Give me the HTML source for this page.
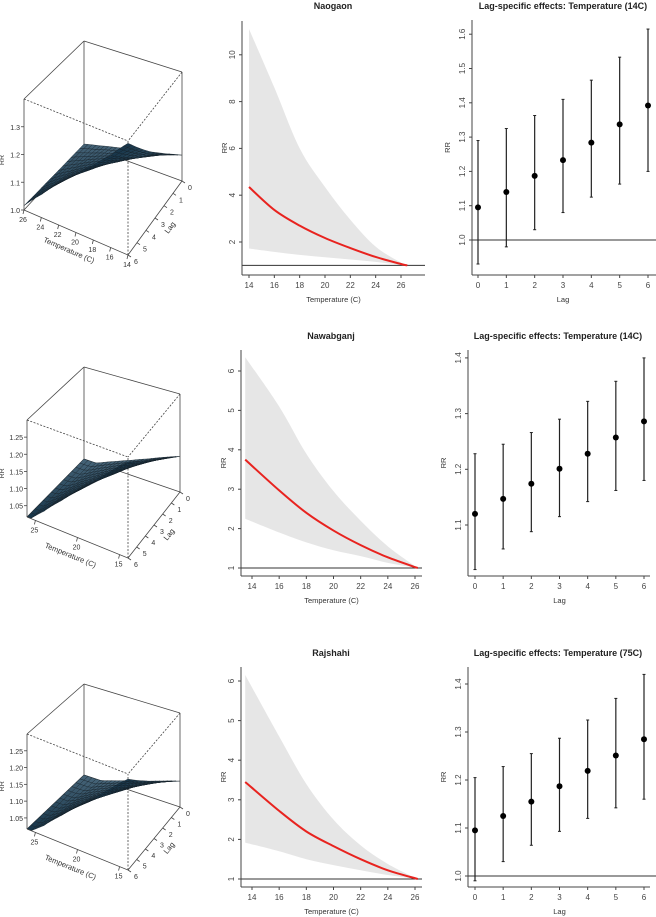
<!DOCTYPE html>
<html><head><meta charset="utf-8">
<style>
html,body{margin:0;padding:0;background:#fff;}
svg{display:block;font-family:"Liberation Sans",Arial,sans-serif;}
</style></head>
<body>
<svg id="fig" width="656" height="917" viewBox="0 0 656 917" xmlns="http://www.w3.org/2000/svg"></svg>
<script>
// ---------- data ----------
const lags = [0,1,2,3,4,5,6];
const lagTicks = [0,1,2,3,4,5,6];
const tempTicks = [14,16,18,20,22,24,26];

const naoTemps = [14,16,18,20,22,24,26,26.5];
const naoRR    = [4.35,3.37,2.7,2.17,1.74,1.36,1.06,1.0];
const naoUp    = [11.1,8.6,6.0,4.35,2.95,1.8,1.12,1.0];
const naoLo    = [1.72,1.58,1.45,1.35,1.25,1.15,1.02,1.0];
const naoLagRR = [1.095,1.14,1.187,1.233,1.284,1.337,1.392];
const naoLagLo = [0.93,0.98,1.03,1.08,1.125,1.163,1.2];
const naoLagUp = [1.29,1.325,1.363,1.41,1.466,1.533,1.615];

const nawTemps = [13.5,16,18,20,22,24,26.2];
const nawRR    = [3.75,2.97,2.4,1.95,1.58,1.27,1.0];
const nawUp    = [6.35,5.1,3.9,2.95,2.2,1.55,1.0];
const nawLo    = [2.25,1.9,1.65,1.45,1.3,1.13,1.0];
const nawLagRR = [1.12,1.147,1.174,1.201,1.228,1.257,1.286];
const nawLagLo = [1.02,1.057,1.088,1.115,1.142,1.162,1.18];
const nawLagUp = [1.228,1.245,1.266,1.29,1.322,1.358,1.4];

const rajTemps = [13.5,16,18,20,22,24,26.2];
const rajRR    = [3.45,2.72,2.2,1.83,1.5,1.22,1.0];
const rajUp    = [6.15,4.6,3.4,2.5,1.85,1.38,1.0];
const rajLo    = [1.92,1.7,1.5,1.35,1.22,1.1,1.0];
const rajLagRR = [1.095,1.125,1.155,1.187,1.219,1.251,1.285];
const rajLagLo = [0.99,1.03,1.064,1.093,1.12,1.142,1.16];
const rajLagUp = [1.205,1.228,1.255,1.287,1.325,1.37,1.42];

const rrTicks1 = [2,4,6,8,10];
const rrTicks2 = [1,2,3,4,5,6];
const lagRRTicks1 = [1.0,1.1,1.2,1.3,1.4,1.5,1.6];
const lagRRTicks2 = [1.1,1.2,1.3,1.4];
const lagRRTicks3 = [1.0,1.1,1.2,1.3,1.4];
const z3dTicks1 = [1.0,1.1,1.2,1.3];
const z3dTicks2 = [1.05,1.10,1.15,1.20,1.25];
const t3dTicks1 = [26,24,22,20,18,16,14];
const t3dTicks2 = [25,20,15];

// ---------- helpers ----------
const NS='http://www.w3.org/2000/svg';
const svg=document.getElementById('fig');
function mk(tag,attrs,parent,text){
  const e=document.createElementNS(NS,tag);
  for(const k in attrs) e.setAttribute(k,attrs[k]);
  if(text!==undefined) e.textContent=text;
  (parent||svg).appendChild(e);
  return e;
}
function lin(d0,d1,r0,r1){return v=>r0+(v-d0)*(r1-r0)/(d1-d0);}
function smoothPath(pts){
  let d='M'+pts[0][0].toFixed(2)+','+pts[0][1].toFixed(2);
  for(let i=0;i<pts.length-1;i++){
    const p0=pts[Math.max(0,i-1)],p1=pts[i],p2=pts[i+1],p3=pts[Math.min(pts.length-1,i+2)];
    const c1=[p1[0]+(p2[0]-p0[0])/6,p1[1]+(p2[1]-p0[1])/6];
    const c2=[p2[0]-(p3[0]-p1[0])/6,p2[1]-(p3[1]-p1[1])/6];
    d+=' C'+c1[0].toFixed(2)+','+c1[1].toFixed(2)+' '+c2[0].toFixed(2)+','+c2[1].toFixed(2)+' '+p2[0].toFixed(2)+','+p2[1].toFixed(2);
  }
  return d;
}
function smoothCont(pts){return smoothPath(pts).replace(/^M/,'L');}

// ---------- overall curve panel ----------
function curvePanel(cfg){
  const g=mk('g',{});
  
  
  const xs=lin(14,26,cfg.x14,cfg.x26), ys=lin(1,2,cfg.y1,cfg.y1-cfg.ppu);
  const up=cfg.temps.map((t,i)=>[xs(t),ys(cfg.up[i])]);
  const lo=cfg.temps.map((t,i)=>[xs(t),ys(cfg.lo[i])]);
  const band=mk('path',{d:smoothPath(up)+' '+smoothCont(lo.slice().reverse())+' Z',fill:'#e6e6e6',stroke:'none'},g);
  
  
  const ref=mk('line',{x1:cfg.axL,x2:cfg.axR,y1:ys(1),y2:ys(1),stroke:'#333','stroke-width':1},g);
  
  
  const cur=mk('path',{d:smoothPath(cfg.temps.map((t,i)=>[xs(t),ys(cfg.rr[i])])),fill:'none',stroke:'#e8231f','stroke-width':2},g);
  
  
  mk('line',{x1:cfg.axL,x2:cfg.axL,y1:cfg.axT,y2:cfg.axB,stroke:'#444','stroke-width':1},g);
  mk('line',{x1:cfg.axL,x2:cfg.axR,y1:cfg.axB,y2:cfg.axB,stroke:'#444','stroke-width':1},g);
  tempTicks.forEach(t=>{
    mk('line',{x1:xs(t),x2:xs(t),y1:cfg.axB,y2:cfg.axB+3,stroke:'#444'},g);
    const l=mk('text',{x:xs(t),y:cfg.axB+13,'font-size':8,'text-anchor':'middle',fill:'#444'},g,String(t));
    
    
  });
  cfg.yticks.forEach(v=>{
    const y=ys(v);
    mk('line',{x1:cfg.axL-3,x2:cfg.axL,y1:y,y2:y,stroke:'#444'},g);
    const l=mk('text',{x:cfg.axL-7,y:y,'font-size':8,'text-anchor':'middle',fill:'#444',transform:`rotate(-90 ${cfg.axL-7} ${y})`},g,String(v));
    
    
  });
  const t=mk('text',{x:cfg.tx,y:cfg.ty,'font-size':9,'font-weight':'bold','text-anchor':'middle',fill:'#222'},g,cfg.title);
  
  
  const xl=mk('text',{x:(cfg.axL+cfg.axR)/2,y:cfg.axB+27,'font-size':7.5,'text-anchor':'middle',fill:'#333'},g,'Temperature (C)');
  
  
  const ym=(cfg.axT+cfg.axB)/2;
  const yl=mk('text',{x:cfg.axL-15,y:ym,'font-size':7.5,'text-anchor':'middle',fill:'#333',transform:`rotate(-90 ${cfg.axL-15} ${ym})`},g,'RR');
  
  
}

// ---------- lag panel ----------
function lagPanel(cfg){
  const g=mk('g',{});
  
  
  const xs=lin(0,6,cfg.x0,cfg.x6), ys=lin(cfg.yref,cfg.yref+0.1,cfg.yrefPx,cfg.yrefPx-cfg.ppt);
  if(cfg.refLine){
    const r=mk('line',{x1:cfg.axL,x2:656,y1:ys(1),y2:ys(1),stroke:'#333'},g);
    
    
  }
  mk('line',{x1:cfg.axL,x2:cfg.axL,y1:cfg.axT,y2:cfg.axB,stroke:'#444'},g);
  mk('line',{x1:cfg.axL,x2:cfg.axR,y1:cfg.axB,y2:cfg.axB,stroke:'#444'},g);
  lags.forEach((l,i)=>{
    const x=xs(l);
    const bar=mk('line',{x1:x,x2:x,y1:ys(cfg.lo[i]),y2:ys(cfg.up[i]),stroke:'#222','stroke-width':1.2},g);
    
    
    mk('line',{x1:x-1.5,x2:x+1.5,y1:ys(cfg.lo[i]),y2:ys(cfg.lo[i]),stroke:'#222'},g);
    mk('line',{x1:x-1.5,x2:x+1.5,y1:ys(cfg.up[i]),y2:ys(cfg.up[i]),stroke:'#222'},g);
    const p=mk('circle',{cx:x,cy:ys(cfg.rr[i]),r:3,fill:'#000'},g);
    
    
  });
  lagTicks.forEach(l=>{
    mk('line',{x1:xs(l),x2:xs(l),y1:cfg.axB,y2:cfg.axB+3,stroke:'#444'},g);
    const t=mk('text',{x:xs(l),y:cfg.axB+13,'font-size':8,'text-anchor':'middle',fill:'#444'},g,String(l));
    
    
  });
  cfg.yticks.forEach(v=>{
    const y=ys(v);
    mk('line',{x1:cfg.axL-3,x2:cfg.axL,y1:y,y2:y,stroke:'#444'},g);
    const t=mk('text',{x:cfg.axL-7,y:y,'font-size':8,'text-anchor':'middle',fill:'#444',transform:`rotate(-90 ${cfg.axL-7} ${y})`},g,v.toFixed(1));
    
    
  });
  const t=mk('text',{x:cfg.tx,y:cfg.ty,'font-size':9,'font-weight':'bold','text-anchor':'middle',fill:'#222'},g,cfg.title);
  
  
  const xl=mk('text',{x:(cfg.x0+cfg.x6)/2,y:cfg.axB+27,'font-size':7.5,'text-anchor':'middle',fill:'#333'},g,'Lag');
  
  
  const ym=(cfg.axT+cfg.axB)/2;
  const yl=mk('text',{x:cfg.axL-22,y:ym,'font-size':7.5,'text-anchor':'middle',fill:'#333',transform:`rotate(-90 ${cfg.axL-22} ${ym})`},g,'RR');
  
  
}

// ---------- 3D surface panel ----------
function surfPanel(cfg){
  const g=mk('g',{});
  
  
  const F=cfg.F,L=cfg.L,R=cfg.R,B=cfg.B,H=cfg.H;
  function P(u,v,w){
    const x=(1-u)*(1-v)*F[0]+u*(1-v)*L[0]+(1-u)*v*R[0]+u*v*B[0];
    const y=(1-u)*(1-v)*F[1]+u*(1-v)*L[1]+(1-u)*v*R[1]+u*v*B[1];
    const h=(1-u)*(1-v)*H[0]+u*(1-v)*H[1]+(1-u)*v*H[2]+u*v*H[3];
    return [x,y-h*w];
  }
  const ln=(a,b,dash)=>mk('line',{x1:a[0],y1:a[1],x2:b[0],y2:b[1],stroke:'#444','stroke-width':0.8,'stroke-dasharray':dash?'2,1.5':'none'},g);
  ln(P(0,0,0),P(0,0,1),true); ln(P(1,0,1),P(0,0,1),true); ln(P(0,1,1),P(0,0,1),true);
  ln(P(1,1,0),P(1,1,1)); ln(P(1,1,0),P(0,1,0)); ln(P(1,1,0),P(1,0,0));
  const lcurve=t=>{
    const T=cfg.temps,V=cfg.curve;
    if(t<=T[0]) return V[0];
    for(let i=0;i<T.length-1;i++) if(t<=T[i+1]){const f=(t-T[i])/(T[i+1]-T[i]);return V[i]+f*(V[i+1]-V[i]);}
    return V[V.length-1];
  };
  const lagAt=l=>{const i=Math.min(5,Math.floor(l));const f=l-i;return cfg.lagRR[i]+f*(cfg.lagRR[i+1]-cfg.lagRR[i]);};
  const c14=Math.log(lcurve(14));
  const zf=(u,v)=>{const t=14+12*u,l=6-6*v;const rr=1+(lagAt(l)-1)*Math.max(0,Math.log(lcurve(t)))/c14;return Math.max(0,Math.min(1,(rr-cfg.z0)/(cfg.z1-cfg.z0)));};
  const NU=24,NV=14,quads=[];
  for(let i=0;i<NU;i++)for(let j=0;j<NV;j++)quads.push([i,j]);
  quads.sort((a,b)=>(b[0]+b[1]*NU/NV)-(a[0]+a[1]*NU/NV));
  const sg=mk('g',{},g);
  
  
  quads.forEach(([i,j])=>{
    const u0=i/NU,u1=(i+1)/NU,v0=j/NV,v1=(j+1)/NV;
    const pts=[P(u0,v0,zf(u0,v0)),P(u1,v0,zf(u1,v0)),P(u1,v1,zf(u1,v1)),P(u0,v1,zf(u0,v1))];
    const s=30+Math.round(45*(j/NV));
    mk('polygon',{points:pts.map(p=>p[0].toFixed(1)+','+p[1].toFixed(1)).join(' '),fill:`rgb(${s-5},${s+25},${s+45})`,stroke:'#15222b','stroke-width':0.4},sg);
  });
  ln(P(1,0,0),P(0,0,0)); ln(P(0,0,0),P(0,1,0)); ln(P(0,1,0),P(0,1,1));
  ln(P(1,0,0),P(1,0,1)); ln(P(1,0,1),P(1,1,1)); ln(P(1,1,1),P(0,1,1));
  cfg.zticks.forEach(z=>{
    const w=(z-cfg.z0)/(cfg.z1-cfg.z0), p=P(1,0,w);
    ln([p[0]-3,p[1]],p);
    const t=mk('text',{x:p[0]-4,y:p[1]+3,'font-size':7,'text-anchor':'end',fill:'#333'},g,cfg.zfmt(z));
    
    
  });
  const zm=P(1,0,0.45);
  const zl=mk('text',{x:4,y:zm[1],'font-size':7,'text-anchor':'middle',fill:'#333',transform:`rotate(-90 4 ${zm[1]})`},g,'RR');
  
  
  cfg.tticks.forEach(tv=>{
    const u=(tv-14)/12, p=P(u,0,0);
    ln(p,[p[0]-1,p[1]+4]);
    const t=mk('text',{x:p[0]-1,y:p[1]+12,'font-size':7,'text-anchor':'middle',fill:'#333'},g,String(tv));
    
    
  });
  const tm=P(0.5,0,0);
  const ang=Math.atan2(F[1]-L[1],F[0]-L[0])*180/Math.PI;
  const tl=mk('text',{x:tm[0]-8,y:tm[1]+20,'font-size':7.5,'text-anchor':'middle',fill:'#333',transform:`rotate(${ang} ${tm[0]-8} ${tm[1]+20})`},g,'Temperature (C)');
  
  
  lagTicks.forEach(l=>{
    const v=(6-l)/6, p=P(0,v,0);
    ln(p,[p[0]+3,p[1]+2]);
    const t=mk('text',{x:p[0]+8,y:p[1]+9,'font-size':7,'text-anchor':'middle',fill:'#333'},g,String(l));
    
    
  });
  const lm=P(0,0.5,0);
  const ang2=Math.atan2(R[1]-F[1],R[0]-F[0])*180/Math.PI;
  const ll=mk('text',{x:lm[0]+17,y:lm[1]+11,'font-size':7.5,'text-anchor':'middle',fill:'#333',transform:`rotate(${ang2} ${lm[0]+17} ${lm[1]+11})`},g,'Lag');
  
  
}

// ---------- row 1 : Naogaon ----------
surfPanel({name:'naogaon-3d-surface',F:[128,255],L:[24,210],R:[182,181],B:[84,145],H:[114,111,109,104],
  z0:1.0,z1:1.4,zticks:z3dTicks1,zfmt:z=>z.toFixed(1),tticks:t3dTicks1,temps:naoTemps,curve:naoRR,lagRR:naoLagRR});
curvePanel({name:'naogaon-overall-curve',title:'Naogaon',tx:333,ty:9,temps:naoTemps,rr:naoRR,up:naoUp,lo:naoLo,
  x14:249,x26:401,y1:265.4,ppu:23.4,axL:242,axR:425,axT:21,axB:275,yticks:rrTicks1});
lagPanel({name:'naogaon-lag-effects',title:'Lag-specific effects: Temperature (14C)',tx:563,ty:9,rr:naoLagRR,lo:naoLagLo,up:naoLagUp,
  x0:478,x6:648,yref:1.0,yrefPx:240,ppt:34.3,axL:472,axR:656,axT:20,axB:275,yticks:lagRRTicks1,refLine:true});

// ---------- row 2 : Nawabganj ----------
surfPanel({name:'nawabganj-3d-surface',F:[128,558],L:[27,517],R:[180,492],B:[84,459],H:[101,97,98,92],
  z0:1.017,z1:1.30,zticks:z3dTicks2,zfmt:z=>z.toFixed(2),tticks:t3dTicks2,temps:nawTemps,curve:nawRR,lagRR:nawLagRR});
curvePanel({name:'nawabganj-overall-curve',title:'Nawabganj',tx:331,ty:339,temps:nawTemps,rr:nawRR,up:nawUp,lo:nawLo,
  x14:252,x26:415,y1:568,ppu:39.4,axL:241,axR:422,axT:350,axB:576,yticks:rrTicks2});
lagPanel({name:'nawabganj-lag-effects',title:'Lag-specific effects: Temperature (14C)',tx:558,ty:339,rr:nawLagRR,lo:nawLagLo,up:nawLagUp,
  x0:475,x6:644,yref:1.1,yrefPx:525,ppt:55.7,axL:468,axR:650,axT:350,axB:576,yticks:lagRRTicks2,refLine:false});

// ---------- row 3 : Rajshahi ----------
surfPanel({name:'rajshahi-3d-surface',F:[128,870],L:[27,829],R:[180,807],B:[84,775],H:[96,95,94,91],
  z0:1.017,z1:1.30,zticks:z3dTicks2,zfmt:z=>z.toFixed(2),tticks:t3dTicks2,temps:rajTemps,curve:rajRR,lagRR:rajLagRR});
curvePanel({name:'rajshahi-overall-curve',title:'Rajshahi',tx:331,ty:656,temps:rajTemps,rr:rajRR,up:rajUp,lo:rajLo,
  x14:252,x26:415,y1:879,ppu:39.6,axL:241,axR:422,axT:667,axB:887,yticks:rrTicks2});
lagPanel({name:'rajshahi-lag-effects',title:'Lag-specific effects: Temperature (75C)',tx:558,ty:656,rr:rajLagRR,lo:rajLagLo,up:rajLagUp,
  x0:475,x6:644,yref:1.0,yrefPx:876,ppt:48,axL:468,axR:650,axT:667,axB:887,yticks:lagRRTicks3,refLine:true});
</script>
</body></html>
